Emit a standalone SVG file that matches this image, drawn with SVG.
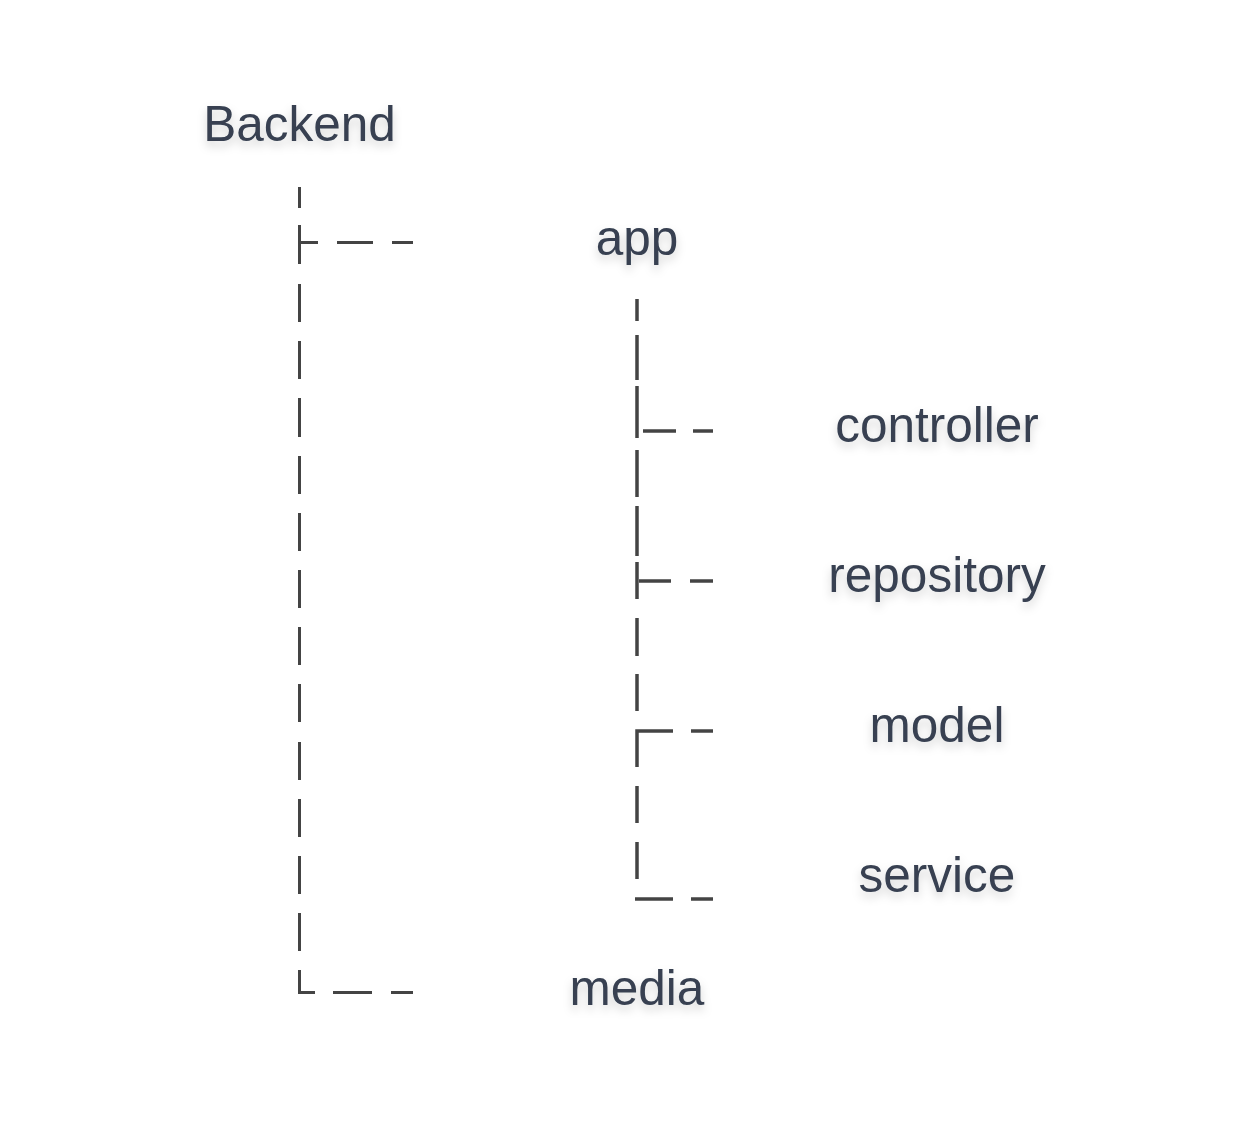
<svg xmlns="http://www.w3.org/2000/svg" width="1238" height="1125" viewBox="0 0 1238 1125">
<defs>
<filter id="sh" x="-20%" y="-40%" width="140%" height="200%">
<feDropShadow dx="0" dy="5" stdDeviation="5" flood-color="#000" flood-opacity="0.18"/>
</filter>
<style>
.t{font-family:"Liberation Sans",Arial,sans-serif;font-size:49.5px;fill:#374151;text-anchor:middle;filter:url(#sh)}
.c{stroke:#444;stroke-width:3;fill:none}
.c2{stroke:#444;stroke-width:3.5;fill:none}
</style>
</defs>
<rect width="1238" height="1125" fill="#fff"/>
<g id="connectors">
<path class="c" d="M299.5 187V208M299.5 225V264M299.5 284V322M299.5 341V379M299.5 398V437M299.5 456V494M299.5 513V551M299.5 570V608M299.5 627V665M299.5 684V722M299.5 742V780M299.5 799V837M299.5 856V894M299.5 913V951M299.5 970V992.5H315"/>
<path class="c" d="M299 242.5H318M337 242.5H373M392 242.5H413"/>
<path class="c" d="M333 992.5H372M391 992.5H413"/>
<path class="c2" d="M637 299V321M637 335V380M637 386V438M637 450V497M637 506V556M637 562V599M637 618V656M637 674V711M637 767V731H673M637 786V823M637 842V879"/>
<path class="c2" d="M643 431H676M693 431H713"/>
<path class="c2" d="M639 581H671M690 581H713"/>
<path class="c2" d="M691 731H713"/>
<path class="c2" d="M635 899H673M691 899H713"/>
</g>
<g id="backend"><text class="t" x="299.5" y="141">Backend</text></g>
<g id="app"><text class="t" x="637" y="255">app</text></g>
<g id="controller"><text class="t" x="937" y="442">controller</text></g>
<g id="repository"><text class="t" x="937" y="592">repository</text></g>
<g id="model"><text class="t" x="937" y="742">model</text></g>
<g id="service"><text class="t" x="937" y="892">service</text></g>
<g id="media"><text class="t" x="637" y="1005">media</text></g>
</svg>
